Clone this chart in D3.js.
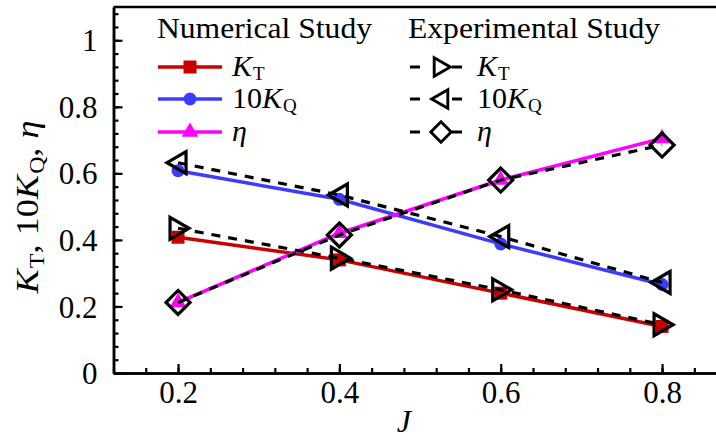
<!DOCTYPE html>
<html>
<head>
<meta charset="utf-8">
<script src="https://cdn.jsdelivr.net/npm/d3@7"></script>
<style>
  body { margin: 0; background: #fff; }
  svg { display: block; }
  svg text { font-family: 'Liberation Serif', serif; fill: #000; }
</style>
</head>
<body>
<svg id="chart" width="716" height="441"></svg>
<script>
// advance coefficient J
var J = [0.2, 0.4, 0.6, 0.8];

// numerical study
var numKT  = [0.408, 0.340, 0.240, 0.140];
var num10KQ = [0.608, 0.522, 0.388, 0.266];
var numEta = [0.212, 0.420, 0.580, 0.705];

// experimental study
var expKT  = [0.435, 0.345, 0.250, 0.145];
var exp10KQ = [0.632, 0.535, 0.410, 0.272];
var expEta = [0.212, 0.415, 0.580, 0.685];

var xMajor = [0.2, 0.4, 0.6, 0.8];
var yMajor = [0, 0.2, 0.4, 0.6, 0.8, 1];

var FONT = "'Liberation Serif', serif";
var svg = d3.select("#chart");

// scales
var x = d3.scaleLinear().domain([0.12, 0.88]).range([113.5, 726.6]);
var y = d3.scaleLinear().domain([0, 1.1]).range([373, 7]);

var xMinor = d3.range(0.12, 0.881, 0.04);
var yMinor = d3.range(0, 1.101, 0.04);

//========= axes (ticks point inward)
var gx = svg.append("g").attr("transform", "translate(0,373)");
gx.call(d3.axisBottom(x).tickValues(xMinor).tickSize(-5).tickSizeOuter(0).tickFormat(""));
gx.append("g").call(d3.axisBottom(x).tickValues(xMajor).tickSize(-9).tickSizeOuter(0).tickFormat(d3.format(".1f")));

var gy = svg.append("g").attr("transform", "translate(113.5,0)");
gy.call(d3.axisLeft(y).tickValues(yMinor).tickSize(-5).tickSizeOuter(0).tickFormat(""));
gy.append("g").call(d3.axisLeft(y).tickValues(yMajor).tickSize(-9).tickSizeOuter(0)
   .tickFormat(function(d){ return d === 0 || d === 1 ? d3.format("d")(d) : d3.format(".1f")(d); }));

svg.selectAll("g").attr("font-family", FONT);
svg.selectAll(".domain").attr("stroke", "#000").attr("stroke-width", 2.5);
svg.selectAll(".tick line").attr("stroke", "#000").attr("stroke-width", 2.2);
gx.selectAll("text").attr("y", 30).attr("dy", 0).style("font-size", "31px").attr("fill", "#000");
gy.selectAll("text").attr("x", -16).attr("dy", "0.34em").style("font-size", "31px").attr("fill", "#000");

// top frame line
svg.append("line")
   .attr("x1", x(0.12)).attr("x2", x(0.88))
   .attr("y1", y(1.1)).attr("y2", y(1.1))
   .attr("stroke", "#000").attr("stroke-width", 2.5);

//========= axis titles
svg.append("text")
   .attr("x", x(0.48)).attr("y", 432)
   .attr("text-anchor", "middle")
   .style("font-size", "32px").style("font-style", "italic")
   .text("J");

var yt = svg.append("text")
   .attr("transform", "translate(38,207) rotate(-90)")
   .attr("text-anchor", "middle")
   .attr("textLength", 173).attr("lengthAdjust", "spacingAndGlyphs")
   .style("font-size", "32px");
yt.append("tspan").style("font-style", "italic").text("K");
yt.append("tspan").attr("dy", 6).attr("dx", 1).style("font-size", "21px").text("T");
yt.append("tspan").attr("dy", -6).text(", 10");
yt.append("tspan").style("font-style", "italic").text("K");
yt.append("tspan").attr("dy", 6).attr("dx", 1).style("font-size", "21px").text("Q");
yt.append("tspan").attr("dy", -6).text(", ");
yt.append("tspan").style("font-style", "italic").text("η");

//========= markers
var tri = d3.symbol().type(d3.symbolTriangle).size(120);
function rightTri(){ return "M-8,-11L11,0L-8,11Z"; }
function leftTri(){ return "M8,-11L-11,0L8,11Z"; }
function diamond(){ return "M0,-12L12,0L0,12L-12,0Z"; }

var numSeries = [
  {vals: numKT,   color: "#c80000", shape: "square"},
  {vals: num10KQ, color: "#3c3cff", shape: "circle"},
  {vals: numEta,  color: "#ff00ff", shape: "triangle"}
];
var expSeries = [
  {vals: expKT,   marker: rightTri},
  {vals: exp10KQ, marker: leftTri},
  {vals: expEta,  marker: diamond}
];

function drawNumMarker(g, shape, color){
  if (shape === "square") g.append("rect").attr("x", -6.5).attr("y", -6.5).attr("width", 13).attr("height", 13).attr("fill", color);
  else if (shape === "circle") g.append("circle").attr("r", 6.5).attr("fill", color);
  else g.append("path").attr("d", tri()).attr("fill", color);
}

var line = d3.line()
   .x(function(d){ return x(d[0]); })
   .y(function(d){ return y(d[1]); });

// numerical lines + markers
numSeries.forEach(function(s){
  var pts = J.map(function(j, i){ return [j, s.vals[i]]; });
  svg.append("path").attr("d", line(pts))
     .attr("fill", "none").attr("stroke", s.color).attr("stroke-width", 3.5);
  pts.forEach(function(p){
    drawNumMarker(svg.append("g").attr("transform", "translate(" + x(p[0]) + "," + y(p[1]) + ")"), s.shape, s.color);
  });
});

// experimental dashed lines + open markers
expSeries.forEach(function(s){
  var pts = J.map(function(j, i){ return [j, s.vals[i]]; });
  svg.append("path").attr("d", line(pts))
     .attr("fill", "none").attr("stroke", "#000").attr("stroke-width", 3.2)
     .attr("stroke-dasharray", "9,8");
  svg.selectAll(null).data(pts).enter().append("path")
     .attr("transform", function(p){ return "translate(" + x(p[0]) + "," + y(p[1]) + ")"; })
     .attr("d", s.marker)
     .attr("fill", "none").attr("stroke", "#000").attr("stroke-width", 3.2)
     .attr("stroke-linejoin", "miter");
});

//////////
// LEGEND //
//////////
var rowsY = [67, 99, 132];

svg.append("text").attr("x", 157).attr("y", 38)
   .attr("textLength", 215).attr("lengthAdjust", "spacingAndGlyphs")
   .style("font-size", "29px").text("Numerical Study");
svg.append("text").attr("x", 408).attr("y", 38)
   .attr("textLength", 252).attr("lengthAdjust", "spacingAndGlyphs")
   .style("font-size", "29px").text("Experimental Study");

function legendLabel(lx, ly, idx){
  var t = svg.append("text").attr("x", lx).attr("y", ly + 9).style("font-size", "30px");
  if (idx === 0){
    t.append("tspan").style("font-style", "italic").text("K");
    t.append("tspan").attr("dy", 4).attr("dx", 1).style("font-size", "19px").text("T");
  } else if (idx === 1){
    t.append("tspan").text("10");
    t.append("tspan").style("font-style", "italic").text("K");
    t.append("tspan").attr("dy", 4).attr("dx", 1).style("font-size", "19px").text("Q");
  } else {
    t.append("tspan").style("font-style", "italic").text("η");
  }
}

numSeries.forEach(function(s, i){
  var ly = rowsY[i];
  svg.append("line").attr("x1", 158).attr("x2", 222).attr("y1", ly).attr("y2", ly)
     .attr("stroke", s.color).attr("stroke-width", 3.5);
  drawNumMarker(svg.append("g").attr("transform", "translate(190," + ly + ")"), s.shape, s.color);
  legendLabel(232, ly, i);
});

expSeries.forEach(function(s, i){
  var ly = rowsY[i];
  svg.append("line").attr("x1", 410).attr("x2", 462).attr("y1", ly).attr("y2", ly)
     .attr("stroke", "#000").attr("stroke-width", 3.2).attr("stroke-dasharray", "10,32");
  svg.append("path").attr("transform", "translate(441," + ly + ") scale(0.85)")
     .attr("d", s.marker)
     .attr("fill", "none").attr("stroke", "#000").attr("stroke-width", 3.4);
  legendLabel(477, ly, i);
});
</script>
</body>
</html>
